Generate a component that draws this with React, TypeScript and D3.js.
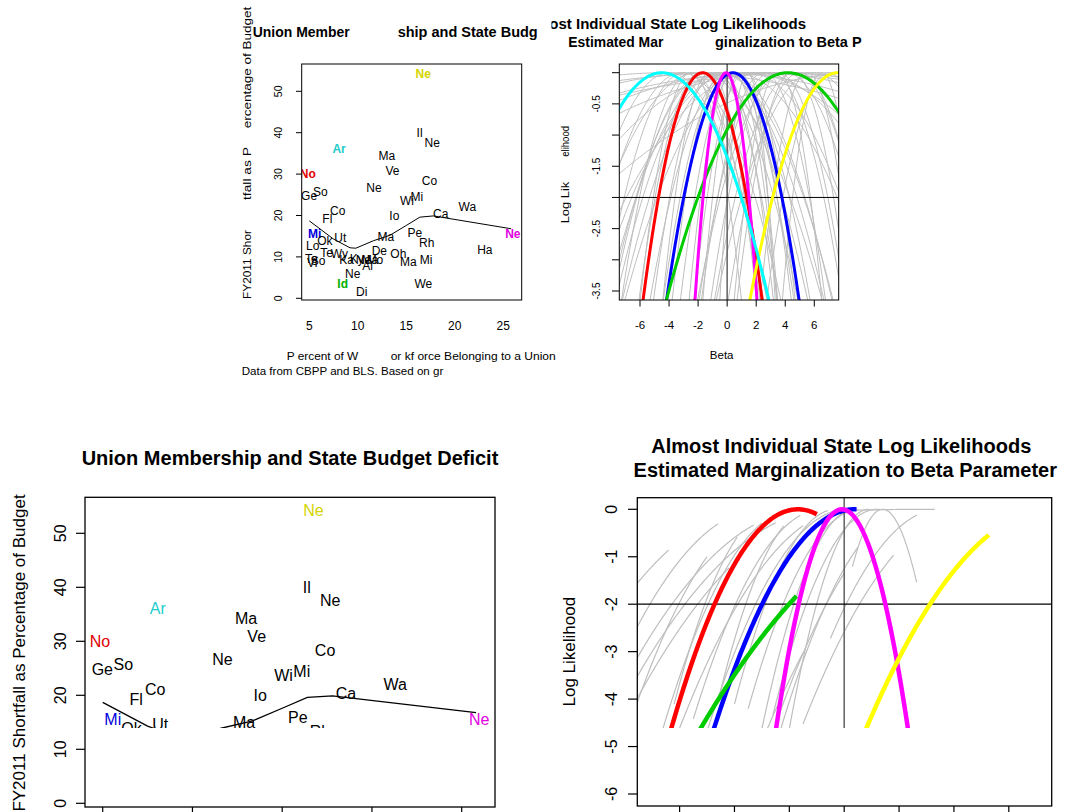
import * as d3 from "d3";

// state labels (first two letters), % of workforce in unions, FY2011 shortfall %
const stateAbbr = ["Ne", "Il", "Ne", "Ar", "Ma", "Ve", "No", "Co", "Ne", "Ge", "So", "Mi", "Wi", "Wa", "Co", "Fl", "Io", "Ca", "Mi", "Ne", "Pe", "Ma", "Ut", "Ok", "Rh", "Lo", "Te", "Wy", "Ka", "Ky", "Ne", "Ma", "Mo", "Al", "De", "Oh", "Ne", "Id", "Di", "Ma", "Mi", "We", "Ha", "Te", "Vi", "So"];
const unionPct = [16.74, 16.37, 17.67, 8.07, 12.99, 13.58, 4.85, 17.39, 11.67, 4.98, 6.15, 16.09, 15.07, 21.29, 7.93, 6.86, 13.77, 18.55, 5.56, 25.98, 15.87, 12.88, 8.2, 6.6, 17.1, 5.35, 6.79, 8.1, 8.85, 9.9, 10.57, 11.26, 11.77, 11.0, 12.22, 14.18, 9.47, 8.44, 10.4, 15.2, 17.03, 16.75, 23.1, 5.2, 5.3, 5.9];
const shortfallPct = [54.2, 39.9, 37.5, 36.1, 34.3, 30.9, 30.05, 28.3, 26.7, 24.8, 25.7, 24.5, 23.6, 22.0, 21.1, 19.3, 19.9, 20.4, 15.6, 15.6, 15.9, 14.9, 14.6, 13.8, 13.3, 12.6, 10.9, 10.7, 9.25, 9.6, 9.4, 9.25, 9.4, 7.9, 11.5, 10.7, 5.9, 3.6, 1.6, 8.8, 9.25, 3.45, 11.7, 9.6, 8.6, 9.0];

// highlighted states, in the order red, blue, green, magenta, yellow, cyan
const highlightState = [6, 18, 37, 19, 0, 3];

// smoother through the scatter
const lowessX = [5, 7.5, 9.2, 9.8, 11.6, 13.3, 15, 16.4, 17.8, 25.8];
const lowessY = [18.7, 14.3, 12.2, 12.1, 13.9, 15.2, 17.6, 19.6, 19.9, 16.8];

// highlighted log likelihood curves: peak location and curvature
const curveCenter = [-1.69, 0.39, 4.19, -0.08, 7.6, -4.5];
const curveCurv = [0.217, 0.175, 0.052, 0.8, 0.1, 0.067];
// part of each curve that got drawn in the big (lower) panel
const curveLo = [-7.6, -7.6, -7.6, -7.6, -7.6, null];
const curveHi = [-1.0, 0.45, -1.74, 7.6, 5.27, null];

// the other states
const grayCenter = [0.5, 3, -1, 6, 9, -4, 2, 4, 1, -2, -3.1, 0.5, 2, -0.5, -1.5, 0, 1.5, -0.3, 0.1, 0.4, 0.2, 0.6, -0.8, 0.9, 1.2, -1.2, 1.4, 2.5, 3, 3.5, 4.5, 5.5, 6.5, 4.0, 5, 3.5, 4.64, 7, 6, -3, -2.5, -4, -1.25, -0.5, -2.5, -1.8];
const grayCurv = [0.002, 0.003, 0.004, 0.002, 0.006, 0.003, 0.005, 0.005, 0.015, 0.05, 0.079, 0.04, 0.025, 0.06, 0.09, 0.07, 0.05, 0.3, 0.18, 0.4, 0.12, 0.25, 0.2, 0.55, 0.3, 0.35, 1.0, 0.2, 0.15, 0.4, 0.25, 0.35, 0.5, 0.1, 0.15, 0.17, 0.12, 0.2, 0.08, 0.12, 0.3, 0.08, 0.079, 0.071, 0.16, 0.2];
const grayLo = [null, 0.3, null, null, null, null, null, null, null, null, -7.6, null, null, null, null, -7.6, null, -4, -5, -3, -6, -3.5, -5.5, -2, -2.6, -4.5, 0.3, -2.5, -2.8, null, null, null, null, -3.2, null, -0.5, -1.5, null, null, -7.6, -6.2, null, -7.6, -7.6, -7.6, -7];
const grayHi = [null, 3.3, null, null, null, null, null, null, null, null, -6.4, null, null, null, null, -4.2, null, -0.6, -0.2, 0.3, -1.5, 0.5, -1.6, 0.9, 1.3, -2.2, 2.64, 0.5, 0.0, null, null, null, null, -1.5, null, 2.65, 1.8, null, null, -4.6, -3.9, null, -3.3, -2.5, -5.0, -3];

const unionTicks = [5, 10, 15, 20, 25];
const shortfallTicks = [0, 10, 20, 30, 40, 50];
const betaTicks = [-6, -4, -2, 0, 2, 4, 6];
const llTicksTop = [0, -0.5, -1, -1.5, -2, -2.5, -3, -3.5];
const llTicksBottom = [0, -1, -2, -3, -4, -5, -6];

const FONT = "'Liberation Sans', Arial, Helvetica, sans-serif";
const curveColors = ["#ff0000", "#0000ff", "#00cd00", "#ff00ff", "#ffff00", "#00ffff"];
const labelColors = ["#e00000", "#0000dd", "#00b000", "#e000e0", "#d4d400", "#22cccc"];

function parab(c, a, lo, hi, xs, ys) {
  const n = 160;
  const pts = d3.range(n + 1).map((i) => {
    const b = lo + ((hi - lo) * i) / n;
    return [xs(b), ys(-a * (b - c) * (b - c))];
  });
  return d3.line()(pts);
}

function RotText({ x, y, size, anchor = "middle", len, dy, children, weight }) {
  return (
    <text
      transform={`translate(${x},${y}) rotate(-90)`}
      textAnchor={anchor}
      fontSize={size}
      dy={dy}
      fontWeight={weight}
      textLength={len}
      lengthAdjust={len ? "spacingAndGlyphs" : undefined}
    >
      {children}
    </text>
  );
}

function colorOf(i) {
  const k = highlightState.indexOf(i);
  return k >= 0 ? labelColors[k] : "#000";
}

export default function App() {
  // top-left: small scatter
  const xTL = d3.scaleLinear().domain([5, 25]).range([309.3, 503.3]);
  const yTL = d3.scaleLinear().domain([0, 50]).range([298.3, 91.3]);
  // top-right: small likelihoods
  const xTR = d3.scaleLinear().domain([-6, 6]).range([640, 814.3]);
  const yTR = d3.scaleLinear().domain([0, -3.5]).range([72.7, 291]);
  // bottom-left: big scatter
  const xBL = d3.scaleLinear().domain([5, 25]).range([102.7, 461.7]);
  const yBL = d3.scaleLinear().domain([0, 50]).range([803.3, 533.3]);
  // bottom-right: big likelihoods
  const xBR = d3.scaleLinear().domain([-6, 6]).range([679.6, 1008.8]);
  const yBR = d3.scaleLinear().domain([0, -6]).range([509.3, 794]);

  const fTL = { x0: 301.7, x1: 521.7, y0: 64, y1: 300 };
  const fTR = { x0: 619.3, x1: 838.7, y0: 64, y1: 300 };
  const fBL = { x0: 85, x1: 495, y0: 497.3, y1: 807 };
  const fBR = { x0: 637.3, x1: 1051.7, y0: 497.7, y1: 806 };
  const cutY = 728;

  const lowTL = d3.line().x((d) => xTL(d[0])).y((d) => yTL(d[1]));
  const lowBL = d3.line().x((d) => xBL(d[0])).y((d) => yBL(d[1]));
  const lowPts = lowessX.map((x, i) => [x, lowessY[i]]);

  const frame = (f, w) => (
    <rect x={f.x0} y={f.y0} width={f.x1 - f.x0} height={f.y1 - f.y0} fill="none" stroke="#000" strokeWidth={w} />
  );

  return (
    <svg width={1073} height={812} style={{ position: "absolute", left: 0, top: 0, background: "#fff" }} fontFamily={FONT}>
      <defs>
        <clipPath id="cTL"><rect x={fTL.x0} y={fTL.y0} width={fTL.x1 - fTL.x0} height={fTL.y1 - fTL.y0} /></clipPath>
        <clipPath id="cTR"><rect x={fTR.x0} y={fTR.y0} width={fTR.x1 - fTR.x0} height={fTR.y1 - fTR.y0} /></clipPath>
        <clipPath id="cTitle"><rect x={551.5} y={0} width={400} height={40} /></clipPath>
        <clipPath id="cBL"><rect x={fBL.x0} y={fBL.y0} width={fBL.x1 - fBL.x0} height={cutY - fBL.y0} /></clipPath>
        <clipPath id="cBR"><rect x={fBR.x0} y={fBR.y0} width={fBR.x1 - fBR.x0} height={cutY - fBR.y0} /></clipPath>
      </defs>
      <rect width={1073} height={812} fill="#fff" />

      {/* ---------- top-left ---------- */}
      <g fontWeight="bold" fontSize={14.5}>
        <text x={252.7} y={37} textLength={97} lengthAdjust="spacingAndGlyphs">Union Member</text>
        <text x={397.7} y={37} textLength={140} lengthAdjust="spacingAndGlyphs">ship and State Budg</text>
      </g>
      <g fill="#000">
        <RotText x={251} y={299} size={11.5} anchor="start" len={69}>FY2011 Shor</RotText>
        <RotText x={251} y={200} size={11.5} anchor="start" len={53}>tfall as P</RotText>
        <RotText x={251} y={128.3} size={11.5} anchor="start" len={121.6}>ercentage of Budget</RotText>
      </g>
      <g fontSize={11.5}>
        <text x={286.7} y={360} textLength={71.6} lengthAdjust="spacingAndGlyphs">P ercent of W</text>
        <text x={390.7} y={360} textLength={165} lengthAdjust="spacingAndGlyphs">or kf orce Belonging to a Union</text>
        <text x={241.7} y={375} textLength={201.6} lengthAdjust="spacingAndGlyphs">Data from CBPP and BLS. Based on gr</text>
      </g>
      {shortfallTicks.map((t) => (
        <g key={"tly" + t}>
          <line x1={296} x2={fTL.x0} y1={yTL(t)} y2={yTL(t)} stroke="#000" />
          <RotText x={278.3} y={yTL(t)} size={10.5} dy="0.35em">{t}</RotText>
        </g>
      ))}
      {unionTicks.map((t) => (
        <text key={"tlx" + t} x={xTL(t)} y={330} fontSize={12} textAnchor="middle">{t}</text>
      ))}
      <g clipPath="url(#cTL)">
        {stateAbbr.map((s, i) => (
          <text key={"tls" + i} x={xTL(unionPct[i])} y={yTL(shortfallPct[i])} dy="0.35em" textAnchor="middle" fontSize={12} fontWeight={highlightState.includes(i) ? "bold" : "normal"} fill={colorOf(i)}>{s}</text>
        ))}
        <path d={lowTL(lowPts)} fill="none" stroke="#000" strokeWidth={1} />
      </g>
      {frame(fTL, 1)}

      {/* ---------- top-right ---------- */}
      <g fontWeight="bold" fontSize={15}>
        <text x={806} y={28.5} textAnchor="end" clipPath="url(#cTitle)">Almost Individual State Log Likelihoods</text>
        <text x={568.3} y={47.3} fontSize={14.5} textLength={95} lengthAdjust="spacingAndGlyphs">Estimated Mar</text>
        <text x={715} y={47.3} fontSize={14.5}>ginalization to Beta P</text>
      </g>
      <RotText x={569} y={223.3} size={11.5} anchor="start" len={41.6}>Log Lik</RotText>
      <RotText x={569} y={156.7} size={11.5} anchor="start" len={30.7}>elihood</RotText>
      <text x={721.7} y={359} fontSize={11.5} textAnchor="middle">Beta</text>
      {llTicksTop.map((t, i) => (
        <g key={"try" + t}>
          <line x1={612} x2={fTR.x0} y1={yTR(t)} y2={yTR(t)} stroke="#000" />
          {i % 2 === 1 && <RotText x={596.7} y={yTR(t)} size={10} dy="0.35em">{t.toFixed(1)}</RotText>}
        </g>
      ))}
      {betaTicks.map((t) => (
        <g key={"trx" + t}>
          <line x1={xTR(t)} x2={xTR(t)} y1={fTR.y1} y2={306.5} stroke="#000" />
          <text x={xTR(t)} y={329} fontSize={11.5} textAnchor="middle">{t}</text>
        </g>
      ))}
      <g clipPath="url(#cTR)">
        {grayCenter.map((c, i) => (
          <path key={"trg" + i} d={parab(c, grayCurv[i], -7.8, 7.9, xTR, yTR)} fill="none" stroke="#bebebe" strokeWidth={1} />
        ))}
        <line x1={xTR(0)} x2={xTR(0)} y1={fTR.y0} y2={fTR.y1} stroke="#606060" strokeWidth={1.5} />
        <line x1={fTR.x0} x2={fTR.x1} y1={yTR(-2)} y2={yTR(-2)} stroke="#000" strokeWidth={1} />
        {curveCenter.map((c, i) => (
          <path key={"trc" + i} d={parab(c, curveCurv[i], -7.8, 7.9, xTR, yTR)} fill="none" stroke={curveColors[i]} strokeWidth={3} />
        ))}
      </g>
      {frame(fTR, 1)}

      {/* ---------- bottom-left ---------- */}
      <text x={290} y={465} fontSize={20} fontWeight="bold" textAnchor="middle">Union Membership and State Budget Deficit</text>
      <RotText x={24.5} y={653} size={17}>FY2011 Shortfall as Percentage of Budget</RotText>
      {shortfallTicks.map((t) => (
        <g key={"bly" + t}>
          <line x1={76} x2={fBL.x0} y1={yBL(t)} y2={yBL(t)} stroke="#000" strokeWidth={1.2} />
          <RotText x={60} y={yBL(t)} size={16} dy="0.35em">{t}</RotText>
        </g>
      ))}
      {unionTicks.map((t) => (
        <line key={"blx" + t} x1={xBL(t)} x2={xBL(t)} y1={fBL.y1} y2={816} stroke="#000" strokeWidth={1.2} />
      ))}
      <g clipPath="url(#cBL)">
        {stateAbbr.map((s, i) => (
          <text key={"bls" + i} x={xBL(unionPct[i])} y={yBL(shortfallPct[i])} dy="0.35em" textAnchor="middle" fontSize={16} fill={colorOf(i)}>{s}</text>
        ))}
        <path d={lowBL(lowPts)} fill="none" stroke="#000" strokeWidth={1.3} />
      </g>
      {frame(fBL, 1.3)}

      {/* ---------- bottom-right ---------- */}
      <g fontSize={20} fontWeight="bold" textAnchor="middle">
        <text x={841.3} y={452.7}>Almost Individual State Log Likelihoods</text>
        <text x={845.3} y={476.7}>Estimated Marginalization to Beta Parameter</text>
      </g>
      <RotText x={575} y={651.7} size={17}>Log Likelihood</RotText>
      {llTicksBottom.map((t) => (
        <g key={"bry" + t}>
          <line x1={628} x2={fBR.x0} y1={yBR(t)} y2={yBR(t)} stroke="#000" strokeWidth={1.2} />
          <RotText x={611.7} y={yBR(t)} size={16} dy="0.35em">{t}</RotText>
        </g>
      ))}
      {betaTicks.map((t) => (
        <line key={"brx" + t} x1={xBR(t)} x2={xBR(t)} y1={fBR.y1} y2={815} stroke="#000" strokeWidth={1.2} />
      ))}
      <g clipPath="url(#cBR)">
        {grayCenter.map((c, i) =>
          grayLo[i] === null ? null : (
            <path key={"brg" + i} d={parab(c, grayCurv[i], grayLo[i], grayHi[i], xBR, yBR)} fill="none" stroke="#bebebe" strokeWidth={1.2} />
          )
        )}
        <line x1={xBR(0)} x2={xBR(0)} y1={fBR.y0} y2={fBR.y1} stroke="#606060" strokeWidth={1.5} />
        <line x1={fBR.x0} x2={fBR.x1} y1={yBR(-2)} y2={yBR(-2)} stroke="#000" strokeWidth={1.2} />
        {curveCenter.map((c, i) =>
          curveLo[i] === null ? null : (
            <path key={"brc" + i} d={parab(c, curveCurv[i], curveLo[i], curveHi[i], xBR, yBR)} fill="none" stroke={curveColors[i]} strokeWidth={4.5} />
          )
        )}
      </g>
      {frame(fBR, 1.3)}
    </svg>
  );
}
